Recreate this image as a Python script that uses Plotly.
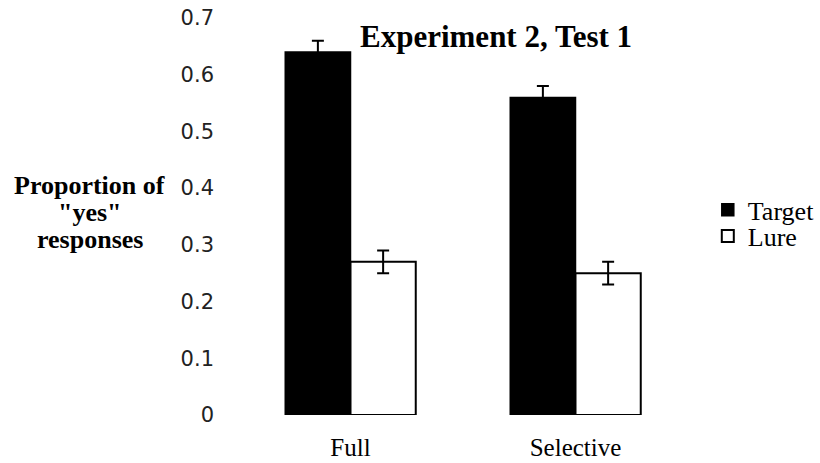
import plotly.graph_objects as go

categories = ["Full", "Selective"]
target_vals = [0.64, 0.56]
target_err = [0.02, 0.02]
lure_vals = [0.27, 0.25]
lure_err = [0.02, 0.02]
y_ticks = [0, 0.1, 0.2, 0.3, 0.4, 0.5, 0.6, 0.7]
y_ticktext = ["0", "0.1", "0.2", "0.3", "0.4", "0.5", "0.6", "0.7"]

serif = "Liberation Serif, Times New Roman, serif"
sans = "DejaVu Sans, sans-serif"

fig = go.Figure()
fig.add_trace(go.Bar(
    x=categories, y=target_vals, name="Target", legend="legend",
    marker=dict(color="black", line=dict(color="black", width=1.5)),
    error_y=dict(type="data", array=target_err, color="black", thickness=2, width=6),
))
fig.add_trace(go.Bar(
    x=categories, y=lure_vals, name="Lure", legend="legend2",
    marker=dict(color="white", line=dict(color="black", width=2)),
    error_y=dict(type="data", array=lure_err, color="black", thickness=2, width=6),
))

leg_common = dict(xanchor="left", yanchor="top", bgcolor="rgba(0,0,0,0)",
                  font=dict(family=serif, size=26, color="black"))

fig.update_layout(
    template="none",
    width=820, height=463,
    margin=dict(l=238, r=132, t=18, b=48, autoexpand=False),
    paper_bgcolor="white", plot_bgcolor="white",
    barmode="group", bargap=0.42, bargroupgap=0,
    showlegend=True,
    legend=dict(x=1.044, y=0.576, **leg_common),
    legend2=dict(x=1.044, y=0.510, **leg_common),
    xaxis=dict(showline=False, showgrid=False, zeroline=False, ticks="",
               tickfont=dict(family=serif, size=25, color="black"),
               ticklabelstandoff=15),
    yaxis=dict(range=[0, 0.7], tickvals=y_ticks, ticktext=y_ticktext,
               showline=False, showgrid=False, zeroline=False, ticks="",
               tickfont=dict(family=sans, size=21, color="#222"),
               ticklabelstandoff=23),
    annotations=[
        dict(text="<b>Experiment 2, Test 1</b>", xref="paper", yref="paper",
             x=0.574, y=0.953, xanchor="center", yanchor="middle", showarrow=False,
             font=dict(family=serif, size=31, color="black")),
        dict(text="<b>Proportion of</b>", xref="paper", yref="paper",
             x=-0.329, y=0.577, xanchor="center", yanchor="middle", showarrow=False,
             font=dict(family=serif, size=26, color="black")),
        dict(text="<b>\"yes\"</b>", xref="paper", yref="paper",
             x=-0.329, y=0.511, xanchor="center", yanchor="middle", showarrow=False,
             font=dict(family=serif, size=26, color="black")),
        dict(text="<b>responses</b>", xref="paper", yref="paper",
             x=-0.329, y=0.441, xanchor="center", yanchor="middle", showarrow=False,
             font=dict(family=serif, size=26, color="black")),
    ],
)

fig.write_html("out.html", config={"displayModeBar": False},
               post_script="document.body.style.margin='0';")
